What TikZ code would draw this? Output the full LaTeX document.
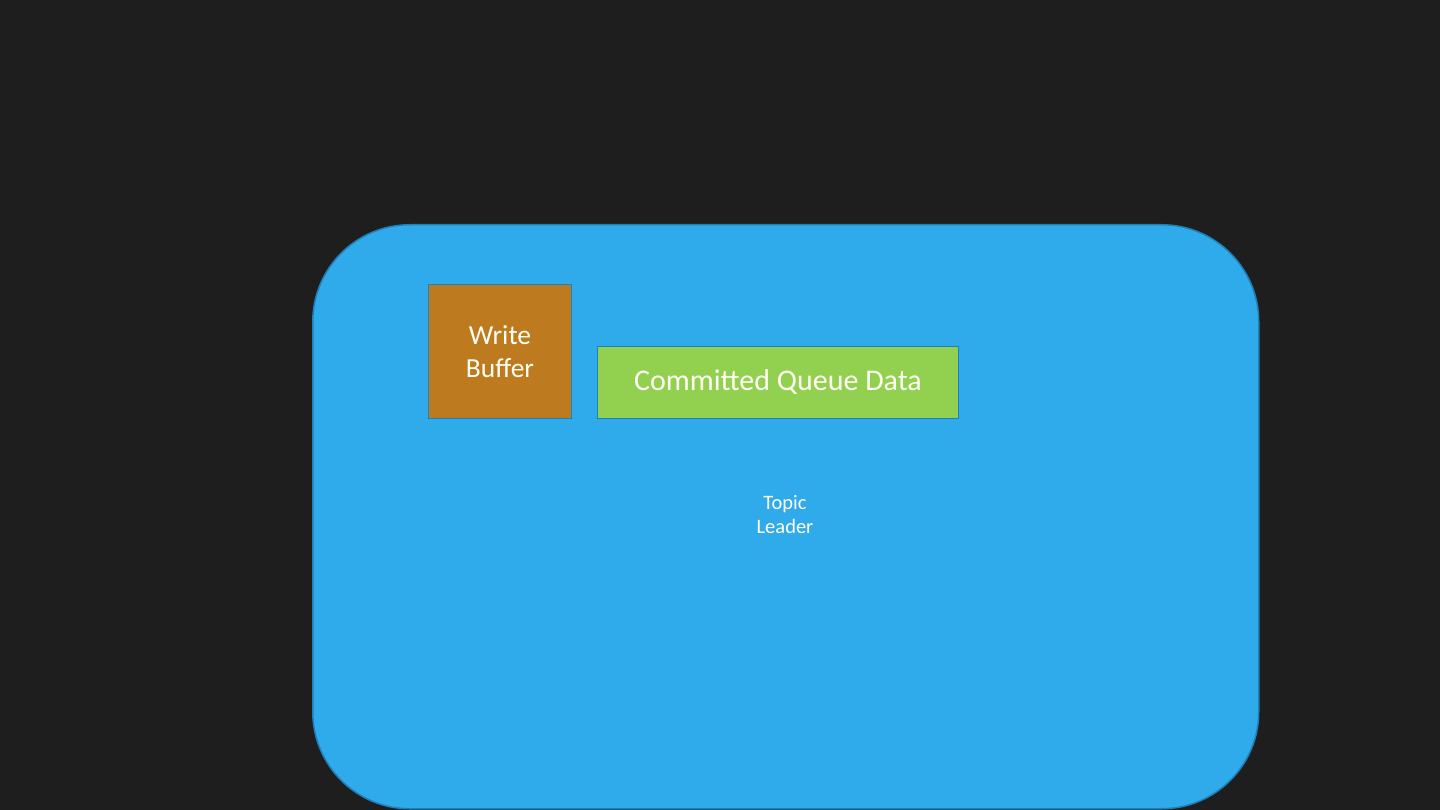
\documentclass[tikz,border=0pt]{standalone}
\usepackage{fontspec}
\setmainfont{Carlito}
\definecolor{bgc}{HTML}{1E1E1E}
\definecolor{bluef}{HTML}{2FAAEA}
\definecolor{blued}{HTML}{1F7FB8}
\definecolor{orangef}{HTML}{BD7A1E}
\definecolor{greenf}{HTML}{92D050}
\definecolor{txt}{HTML}{FFFFF4}
\begin{document}
\begin{tikzpicture}[x=1pt,y=-1pt,
  box/.style={draw=blued,line width=1pt,text=txt,align=center,inner sep=0pt}]
\useasboundingbox (0,0) rectangle (1440,810);
\fill[bgc] (0,0) rectangle (1440,810);
\node[box,fill=bluef,line width=1.5pt,rounded corners=97pt,minimum width=946pt,minimum height=584pt,anchor=north west] (topic) at (312,224) {};
\node[text=txt,align=center,font=\fontsize{20.5}{24}\selectfont] (lbl) at (785,515) {Topic\\Leader};
\node[box,fill=orangef,minimum width=143pt,minimum height=134pt,anchor=north west,font=\fontsize{27.5}{33}\selectfont] (wb) at (428,284) {Write\\Buffer};
\node[box,fill=greenf,minimum width=361pt,minimum height=72pt,anchor=north west,font=\fontsize{30}{33}\selectfont] (cq) at (597,346) {Committed Queue Data};
\end{tikzpicture}
\end{document}
